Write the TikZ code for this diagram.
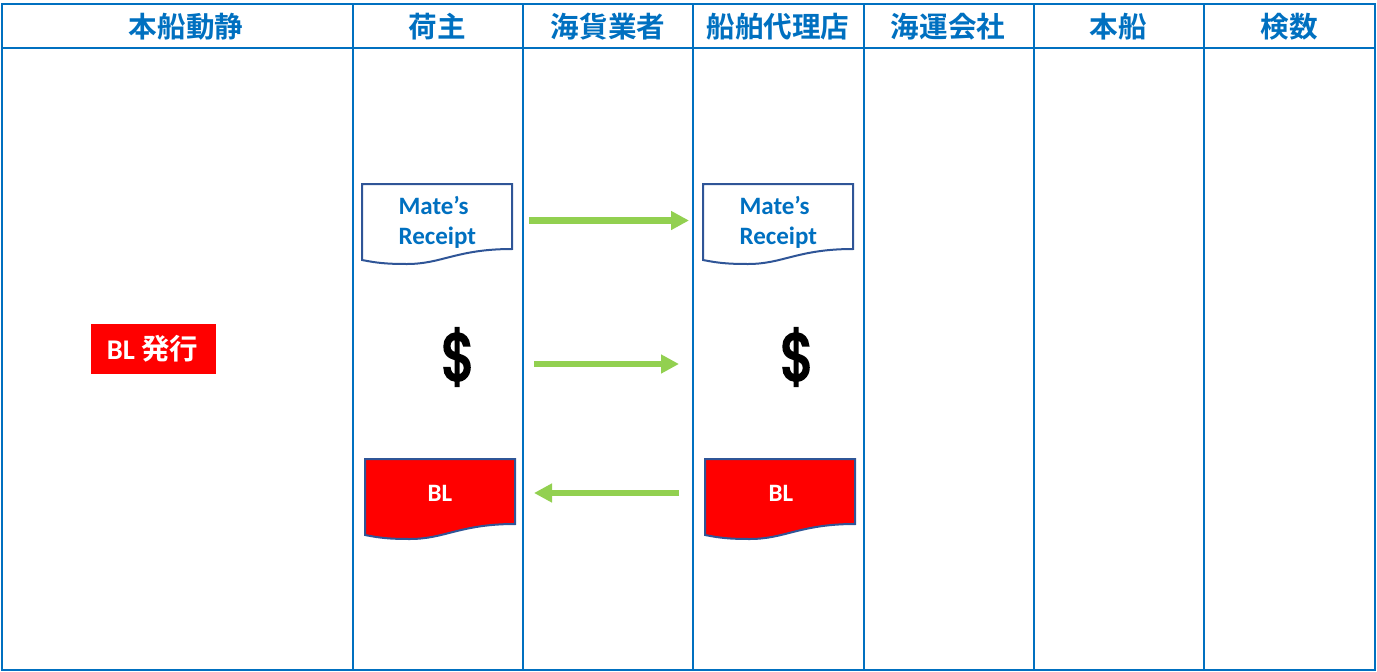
\documentclass[tikz,border=0pt]{standalone}
\usepackage{fontspec}
\usepackage{xcolor}
\usepackage{tikz}
\usetikzlibrary{arrows.meta}
\setmainfont{Carlito}
\newfontfamily\cjk[BoldFont={Noto Sans CJK JP Bold}]{Noto Sans CJK JP}
\newfontfamily\moneyfont[FakeBold=4]{Poppins}
\definecolor{LaneBlue}{HTML}{0070C0}
\definecolor{DocBlue}{HTML}{2F5597}
\definecolor{FlowGreen}{HTML}{92D050}
\tikzset{
  lane/.style={line width=2.4pt,color=LaneBlue},
  lanehead/.style={text=LaneBlue,font=\cjk\bfseries\fontsize{28.6}{32}\selectfont},
  doctext/.style={text=LaneBlue,font=\bfseries\fontsize{25}{30}\selectfont,anchor=west},
  bltext/.style={text=white,font=\bfseries\fontsize{25}{28}\selectfont},
  docedge/.style={line width=2pt,draw=DocBlue},
  flow/.style={line width=6.5pt,color=FlowGreen,-{Triangle[length=18pt,width=18pt]}},
  dollar/.style={font=\moneyfont\fontsize{66}{66}\selectfont,xscale=.82,transform shape},
  pics/docshape/.style={code={
    \path[pic actions] (0,0) -- (150,0) -- (150,65)
      .. controls (95,65) and (80,80) .. (45,80)
      .. controls (25,80) and (15,79) .. (0,76) -- cycle;
  }}
}
\begin{document}
\begin{tikzpicture}[line cap=butt,line join=miter,x=1pt,y=-1pt]
\useasboundingbox (0,0) rectangle (1377,672);
% lanes
\draw[lane] (2,4) rectangle (1375,670);
\draw[lane] (2,48) -- (1375,48);
\foreach \x in {353,523,693,864,1034,1204}
\draw[lane] (\x,4) -- (\x,670);
% headers
\foreach \x/\nm/\txt in {186/headA/本船動静,437/headB/荷主,608/headC/海貨業者,778/headD/船舶代理店,948/headE/海運会社,1118/headF/本船,1289/headG/検数}
\node[lanehead] (\nm) at (\x,27) {\txt};
% documents
\path (362,184) pic[docedge] {docshape};
\path (703,184) pic[docedge] {docshape};
\path (365,459) pic[docedge,fill=red] {docshape};
\path (705,459) pic[docedge,fill=red] {docshape};
\node[doctext] (mateA) at (395,205) {Mate’s};
\node[doctext] (receiptA) at (395,238) {Receipt};
\node[doctext] (mateB) at (736,205) {Mate’s};
\node[doctext] (receiptB) at (736,238) {Receipt};
\node[bltext] (blA) at (440,493) {BL};
\node[bltext] (blB) at (781,493) {BL};
\node[dollar] (payA) at (458,357) {\$};
\node[dollar] (payB) at (797,357) {\$};
% BL issue
\node[fill=red,minimum width=125pt,minimum height=50pt,inner sep=0pt,text=white] (issue) at (153.5,349) {};
\node[text=white,font=\bfseries\fontsize{28.5}{30}\selectfont] (issuetext) at (152.5,349) {BL {\cjk 発行}};
% flows
\coordinate (flowAs) at (529,220.5);
\coordinate (flowAe) at (689,220.5);
\coordinate (flowBs) at (534,364);
\coordinate (flowBe) at (679,364);
\coordinate (flowCs) at (679,493);
\coordinate (flowCe) at (534,493);
\draw[flow] (flowAs) -- (flowAe);
\draw[flow] (flowBs) -- (flowBe);
\draw[flow] (flowCs) -- (flowCe);
\end{tikzpicture}
\end{document}
